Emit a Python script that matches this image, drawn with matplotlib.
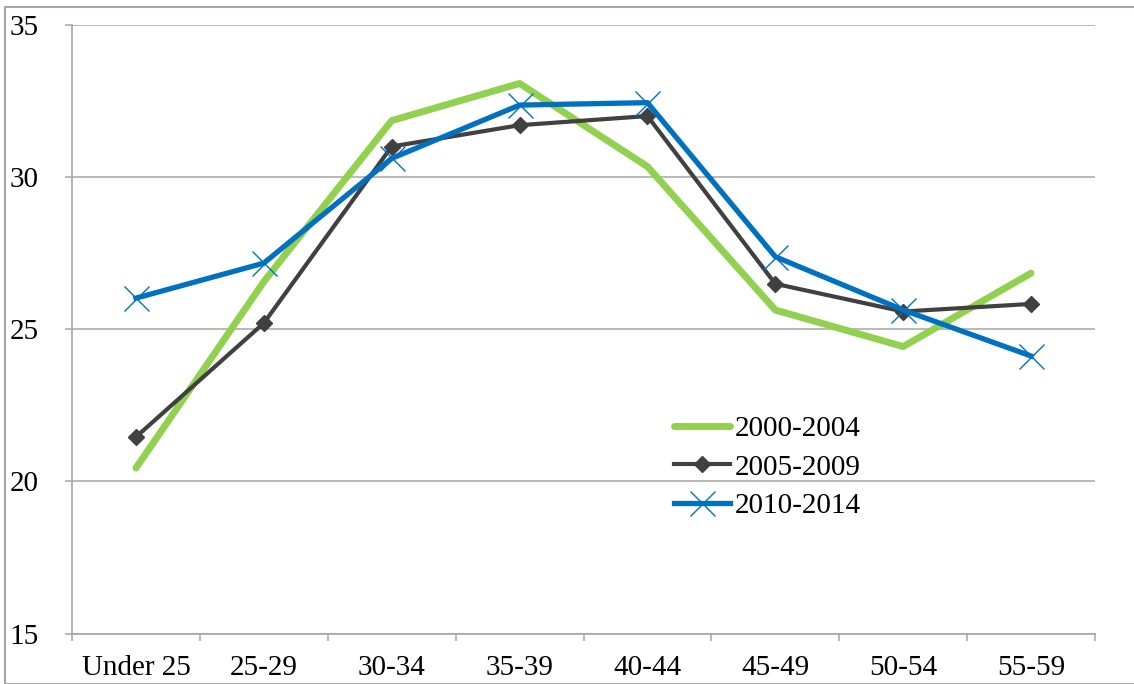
import numpy as np
import matplotlib
matplotlib.use("Agg")
from matplotlib import pyplot as plt
from matplotlib.patches import Rectangle

# age groups and series values
ageGroups = ["Under 25", "25-29", "30-34", "35-39", "40-44", "45-49", "50-54", "55-59"]
s2000 = [20.44, 26.56, 31.85, 33.07, 30.34, 25.63, 24.43, 26.84]
s2005 = [21.46, 25.2, 31.0, 31.7, 32.0, 26.49, 25.58, 25.83]
s2010 = [26.02, 27.17, 30.61, 32.36, 32.44, 27.38, 25.63, 24.12]
yTicks = [15, 20, 25, 30, 35]

grey = "#A6A6A6"
fs = 21
plt.rcParams['font.family'] = ['Liberation Serif', 'DejaVu Serif']

fig = plt.figure(figsize=(11.34, 6.84), dpi=100)
ax = fig.add_axes([72/1134, 1-633.7/684, (1095-72)/1134, (633.7-24.7)/684])

x = np.arange(len(ageGroups))

## lines, green at the bottom, blue on top
ax.plot(x, s2000, color="#92D050", lw=5, solid_capstyle="round", label="2000-2004", zorder=3)
ax.plot(x, s2005, color="#404040", lw=3, marker="D", ms=8, label="2005-2009", zorder=4)
ax.plot(x, s2010, color="#0070C0", lw=3.8, marker="x", ms=18, mew=1, label="2010-2014", zorder=5)

ax.set_xlim(-0.5, len(ageGroups) - 0.5)
ax.set_ylim(15, 35)
ax.set_yticks(yTicks)
ax.set_xticks(x)
ax.set_xticklabels(ageGroups)
ax.set_xticks(np.arange(len(ageGroups) + 1) - 0.5, minor=True)

ax.grid(axis="y", color=grey, lw=1.1, zorder=0)
for side in ["top", "right"]:
    ax.spines[side].set_visible(False)
for side in ["left", "bottom"]:
    ax.spines[side].set_color(grey)
    ax.spines[side].set_linewidth(1.2)

ax.tick_params(axis="x", which="major", length=0, labelsize=fs, pad=15)
ax.tick_params(axis="x", which="minor", length=5, color=grey, width=1.1)
ax.tick_params(axis="y", length=5, color=grey, width=1.1, labelsize=fs, pad=19)

leg = ax.legend(loc="upper left", bbox_to_anchor=(659/1134, 1-401/684),
                bbox_transform=fig.transFigure, frameon=False, fontsize=fs,
                handlelength=1.93, handletextpad=0.15, labelspacing=0.42, borderpad=0)

## outer chart border
fig.patches.append(Rectangle((5/1134, 0), 1.1, 1-7/684, transform=fig.transFigure,
                             fill=False, edgecolor=grey, lw=1.5))

fig.savefig("out.png", dpi=100)
